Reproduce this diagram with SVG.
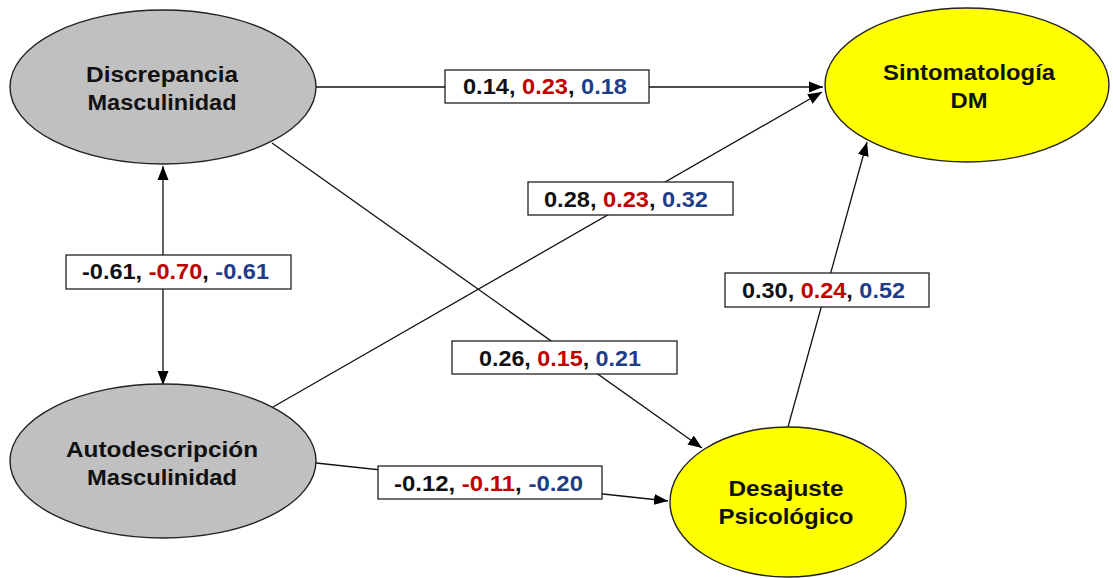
<svg xmlns="http://www.w3.org/2000/svg" width="1113" height="578" viewBox="0 0 1113 578">
  <style>
    .node-grey { fill: #c0c0c0; stroke: #222; stroke-width: 1.4; }
    .node-yellow { fill: #ffff00; stroke: #222; stroke-width: 1.4; }
    .ntext { font-family: "Liberation Sans", Arial, sans-serif; font-weight: bold; font-size: 22px; fill: #111; text-anchor: middle; }
    .edge { stroke: #111; stroke-width: 1.3; fill: none; }
    .lbox { fill: #fff; stroke: #222; stroke-width: 1.3; }
    .ltext { font-family: "Liberation Sans", Arial, sans-serif; font-weight: bold; font-size: 22px; fill: #111; text-anchor: middle; }
    .r { fill: #c00000; }
    .b { fill: #1f3c88; }
  </style>
  <defs>
    <marker id="arrow" markerUnits="userSpaceOnUse" markerWidth="15" markerHeight="12" refX="14" refY="6" orient="auto-start-reverse">
      <path d="M0,0.5 L14,6 L0,11.5 z" fill="#000"/>
    </marker>
  </defs>
  <rect width="1113" height="578" fill="#fff"/>

  <!-- paths between the constructs -->
  <g id="connectors">
    <line class="edge" x1="316" y1="87" x2="823" y2="87" marker-end="url(#arrow)"/>
    <line class="edge" x1="273" y1="407" x2="822" y2="92" marker-end="url(#arrow)"/>
    <line class="edge" x1="272" y1="143" x2="702" y2="448" marker-end="url(#arrow)"/>
    <line class="edge" x1="316" y1="463" x2="668" y2="501" marker-end="url(#arrow)"/>
    <line class="edge" x1="788" y1="427" x2="867" y2="142" marker-end="url(#arrow)"/>
    <line class="edge" x1="163" y1="166" x2="163" y2="385" marker-start="url(#arrow)" marker-end="url(#arrow)"/>
  </g>

  <!-- path coefficients -->
  <g id="labels">
    <rect class="lbox" x="445" y="70" width="204" height="33"/>
    <text class="ltext" x="545" y="93.5" textLength="164" lengthAdjust="spacingAndGlyphs">0.14, <tspan class="r">0.23</tspan>, <tspan class="b">0.18</tspan></text>
    <rect class="lbox" x="528" y="182" width="205" height="33"/>
    <text class="ltext" x="626" y="207" textLength="164" lengthAdjust="spacingAndGlyphs">0.28, <tspan class="r">0.23</tspan>, <tspan class="b">0.32</tspan></text>
    <rect class="lbox" x="66" y="255" width="225" height="34"/>
    <text class="ltext" x="175.5" y="278.5" textLength="187" lengthAdjust="spacingAndGlyphs">-0.61, <tspan class="r">-0.70</tspan>, <tspan class="b">-0.61</tspan></text>
    <rect class="lbox" x="452" y="341" width="225" height="33"/>
    <text class="ltext" x="560" y="366" textLength="162" lengthAdjust="spacingAndGlyphs">0.26, <tspan class="r">0.15</tspan>, <tspan class="b">0.21</tspan></text>
    <rect class="lbox" x="378" y="466" width="224" height="33"/>
    <text class="ltext" x="488.5" y="490.5" textLength="189" lengthAdjust="spacingAndGlyphs">-0.12, <tspan class="r">-0.11</tspan>, <tspan class="b">-0.20</tspan></text>
    <rect class="lbox" x="725" y="273" width="204" height="34"/>
    <text class="ltext" x="823.5" y="297.5" textLength="163" lengthAdjust="spacingAndGlyphs">0.30, <tspan class="r">0.24</tspan>, <tspan class="b">0.52</tspan></text>
  </g>

  <g id="discrepancia">
    <ellipse class="node-grey" cx="163" cy="87" rx="153" ry="77"/>
    <text class="ntext" x="162" y="82" textLength="152" lengthAdjust="spacingAndGlyphs">Discrepancia</text>
    <text class="ntext" x="162" y="110" textLength="149" lengthAdjust="spacingAndGlyphs">Masculinidad</text>
  </g>

  <g id="autodescripcion">
    <ellipse class="node-grey" cx="163" cy="461" rx="153" ry="77"/>
    <text class="ntext" x="162" y="457" textLength="192" lengthAdjust="spacingAndGlyphs">Autodescripción</text>
    <text class="ntext" x="162" y="485" textLength="150" lengthAdjust="spacingAndGlyphs">Masculinidad</text>
  </g>

  <g id="sintomatologia">
    <ellipse class="node-yellow" cx="967" cy="85" rx="142" ry="77"/>
    <text class="ntext" x="969" y="80" textLength="172" lengthAdjust="spacingAndGlyphs">Sintomatología</text>
    <text class="ntext" x="969" y="108" textLength="37" lengthAdjust="spacingAndGlyphs">DM</text>
  </g>

  <g id="desajuste">
    <ellipse class="node-yellow" cx="788" cy="502" rx="118" ry="75"/>
    <text class="ntext" x="786" y="496" textLength="115" lengthAdjust="spacingAndGlyphs">Desajuste</text>
    <text class="ntext" x="786" y="524" textLength="135" lengthAdjust="spacingAndGlyphs">Psicológico</text>
  </g>
</svg>
